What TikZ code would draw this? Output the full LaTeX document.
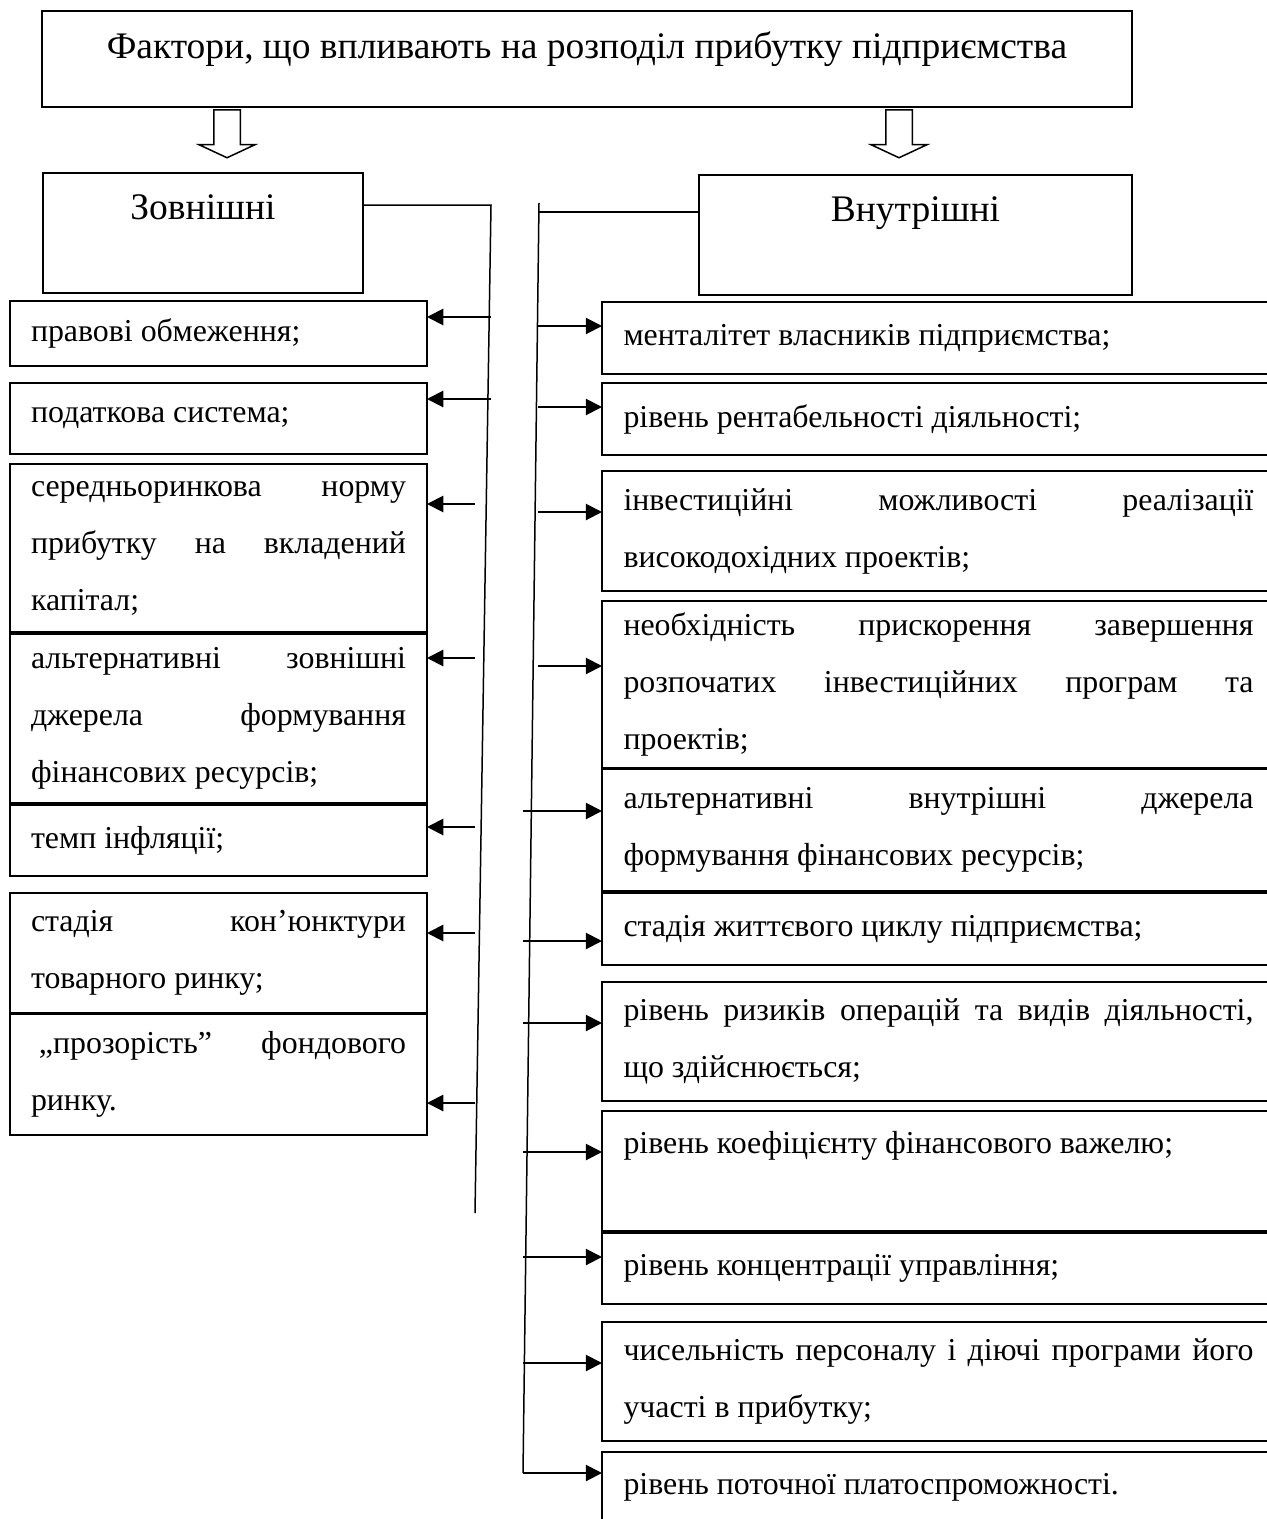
\documentclass[tikz,border=0pt]{standalone}
\usepackage{fontspec}
\setmainfont{Liberation Serif}
\usetikzlibrary{positioning, arrows.meta, shapes.arrows}

\begin{document}
\begin{tikzpicture}
	[x=0.4pt, y=-0.4pt,
	 txt/.style={font=\fontsize{12.75pt}{22.8pt}\selectfont},
	 head/.style={font=\fontsize{15pt}{18pt}\selectfont, draw, line width=.8pt, outer sep=0pt, anchor=north west, inner ysep=0pt, text height=18.4pt, text depth=29.6pt},
	 zbox/.style={txt, draw, line width=.8pt, outer sep=0pt, text width=150pt, inner xsep=8.4pt, inner ysep=2pt, align=justify, minimum height=#1},
	 vbox/.style={txt, draw, line width=.8pt, outer sep=0pt, text width=252pt, inner xsep=8.6pt, inner ysep=2pt, align=justify, minimum height=#1},
	 down/.style={single arrow, draw, line width=.6pt, rotate=-90, anchor=west, minimum height=19.2pt, minimum width=22pt, inner xsep=0pt, inner ysep=5pt, single arrow head extend=6pt, single arrow tip angle=130},
	 arr/.style={-{Triangle[length=6.5pt, width=6.5pt]}, line width=.8pt},
	 trunk/.style={line width=.6pt}]
   \useasboundingbox (0,0) rectangle (1266,1519);
   % heads
   \node[head, minimum width=436pt, text height=18.8pt, text depth=19.6pt] (main) at (42,11) {Фактори, що впливають на розподіл прибутку підприємства};
   \node[down] (d_1) at (227,109) {};
   \node[down] (d_2) at (899,109) {};
   \node[head, minimum width=128pt] (zov) at (43,173) {Зовнішні};
   \node[head, minimum width=173.2pt] (vnu) at (699,175) {Внутрішні};
   % external factors
   \node[zbox=26pt, anchor=north west] (z_1) at (10,301) {правові обмеження;};
   \node[zbox=28.4pt] (z_2) [below=6.8pt of z_1] {податкова система;};
   \node[zbox=67.2pt] (z_3) [below=4pt of z_2] {середньоринкова норму\linebreak прибутку на вкладений\linebreak капітал;};
   \node[zbox=67.6pt] (z_4) [below=.8pt of z_3] {альтернативні зовнішні\linebreak джерела формування\linebreak фінансових ресурсів;};
   \node[zbox=28.4pt] (z_5) [below=.8pt of z_4] {темп інфляції;};
   \node[zbox=48pt] (z_6) [below=6.8pt of z_5] {стадія кон’юнктури\linebreak товарного ринку;};
   \node[zbox=48.4pt] (z_7) [below=.4pt of z_6] {\hspace*{.25em}„прозорість” фондового\linebreak ринку.};
   % internal factors
   \node[vbox=28.8pt, anchor=north west] (v_1) at (602,302) {менталітет власників підприємства;};
   \node[vbox=28.8pt] (v_2) [below=3.6pt of v_1] {рівень рентабельності діяльності;};
   \node[vbox=48pt] (v_3) [below=6.4pt of v_2] {інвестиційні можливості реалізації\linebreak високодохідних проектів;};
   \node[vbox=66.8pt] (v_4) [below=4pt of v_3] {необхідність прискорення завершення\linebreak розпочатих інвестиційних програм та\linebreak проектів;};
   \node[vbox=48.8pt] (v_5) [below=.4pt of v_4] {альтернативні внутрішні джерела\linebreak формування фінансових ресурсів;};
   \node[vbox=28.8pt] (v_6) [below=.8pt of v_5] {стадія життєвого циклу підприємства;};
   \node[vbox=47.6pt] (v_7) [below=6.8pt of v_6] {рівень ризиків операцій та видів діяльності,\linebreak що здійснюється;};
   \node[vbox=48pt] (v_8) [below=4pt of v_7] {рівень коефіцієнту фінансового важелю;\newline\mbox{}};
   \node[vbox=28.4pt] (v_9) [below=.8pt of v_8] {рівень концентрації управління;};
   \node[vbox=47.6pt] (v_10) [below=7.2pt of v_9] {чисельність персоналу і діючі програми його\linebreak участі в прибутку;};
   \node[vbox=28pt] (v_11) [below=4.4pt of v_10] {рівень поточної платоспроможності.};
   % connectors
   \draw[trunk] (zov.east |- 0,205) -- (491,205) -- (475,1213);
   \draw[trunk] (vnu.west |- 0,212) -- (539,212);
   \draw[trunk] (539,203) -- (523,1473);
   \foreach \n/\x/\y in {z_1/491/317, z_2/491/399, z_3/475/504, z_4/475/658, z_5/475/827, z_6/475/933, z_7/475/1103}
      \draw[arr] (\x,\y) -- (\n.east |- 0,\y);
   \foreach \n/\x/\y in {v_1/538/326, v_2/538/407, v_3/538/512, v_4/538/666, v_5/523/811, v_6/523/941, v_7/523/1023, v_8/523/1152, v_9/523/1257, v_10/523/1363, v_11/523/1473}
      \draw[arr] (\x,\y) -- (\n.west |- 0,\y);
\end{tikzpicture}
\end{document}
